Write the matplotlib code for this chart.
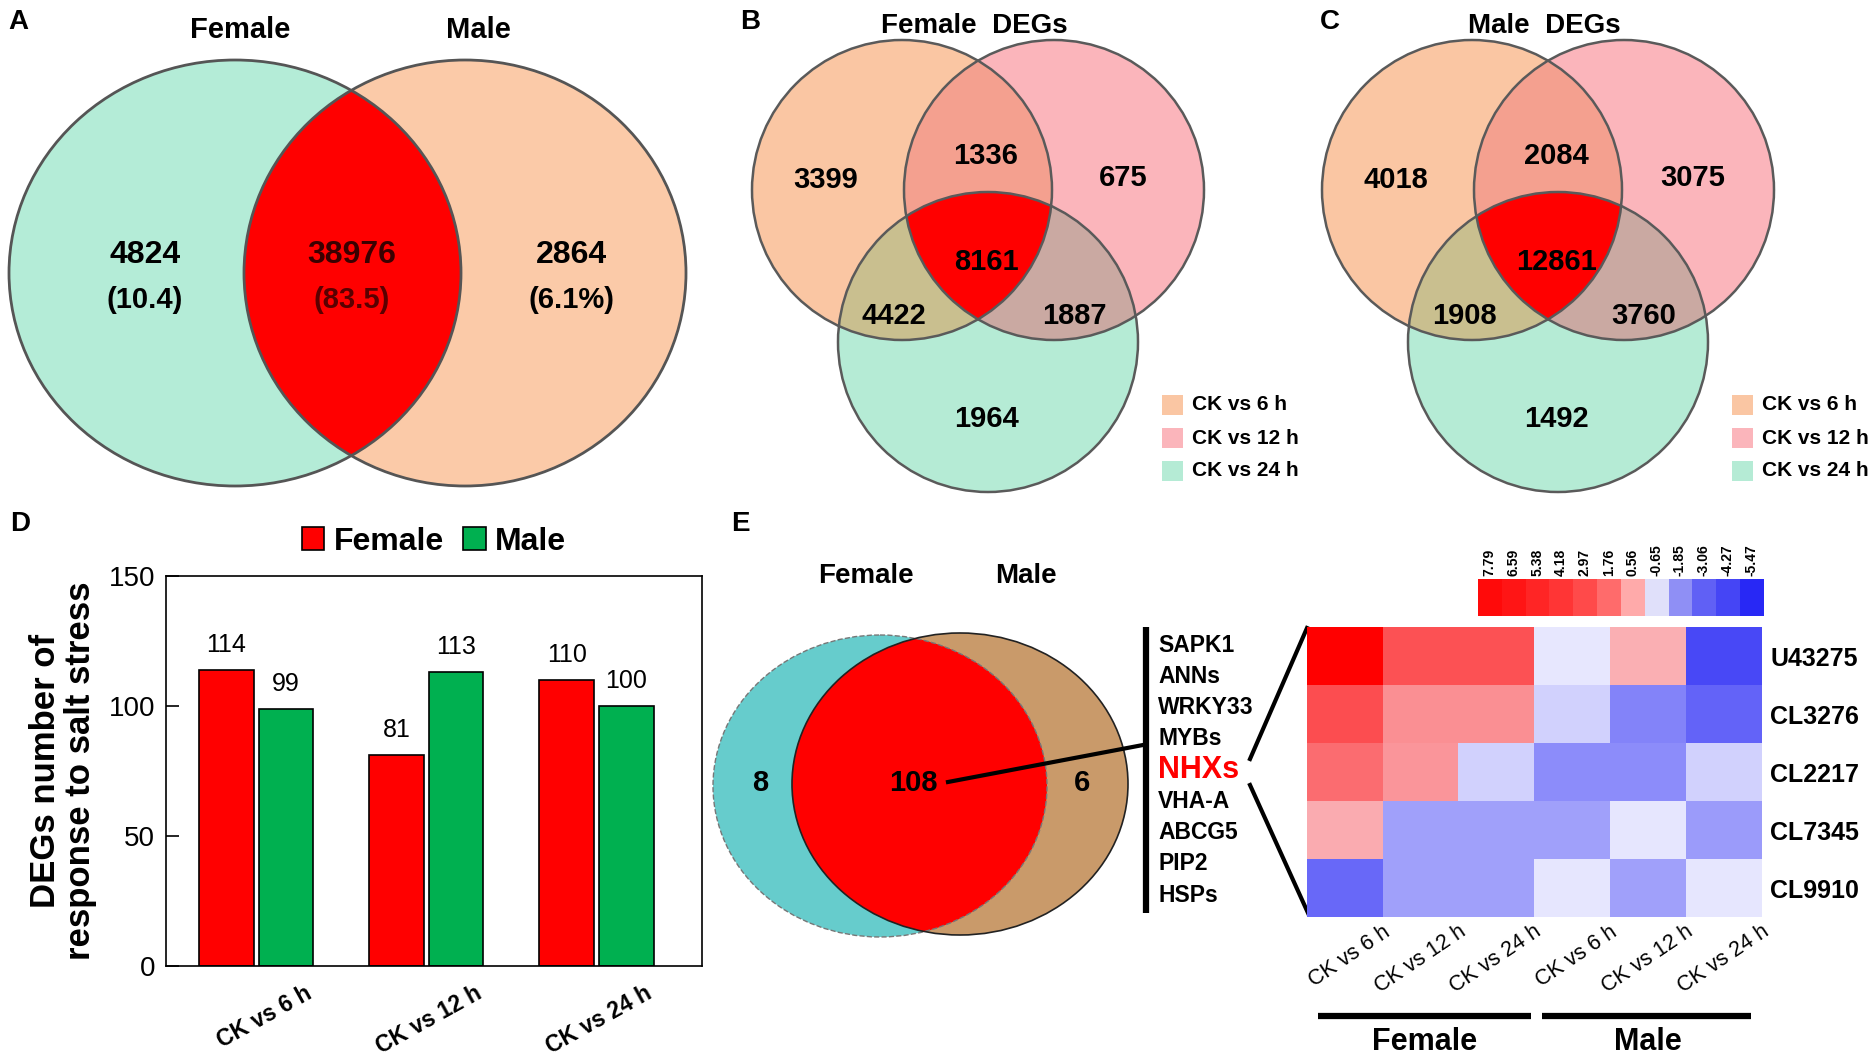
import numpy as np
import matplotlib
matplotlib.use('Agg')
import matplotlib.pyplot as plt
from matplotlib.patches import Ellipse, Polygon, Rectangle
from matplotlib.colors import LinearSegmentedColormap, ListedColormap, TwoSlopeNorm
from matplotlib.transforms import ScaledTranslation, blended_transform_factory

plt.rcParams['font.family'] = ['Liberation Sans', 'DejaVu Sans']

# ---- data ----
venn_a_sets = ['Female', 'Male']
venn_a_counts = [4824, 38976, 2864]
venn_a_pct = ['(10.4)', '(83.5)', '(6.1%)']

# order: only 6h, 6h&12h, only 12h, all, 6h&24h, 12h&24h, only 24h
female_degs = [3399, 1336, 675, 8161, 4422, 1887, 1964]
male_degs = [4018, 2084, 3075, 12861, 1908, 3760, 1492]
deg_sets = ['CK vs 6 h', 'CK vs 12 h', 'CK vs 24 h']

comparisons = ['CK vs 6 h', 'CK vs 12 h', 'CK vs 24 h']
bar_female = [114, 81, 110]
bar_male = [99, 113, 100]

venn_e_counts = [8, 108, 6]
genes = ['SAPK1', 'ANNs', 'WRKY33', 'MYBs', 'NHXs', 'VHA-A', 'ABCG5', 'PIP2', 'HSPs']

heat_rows = ['U43275', 'CL3276', 'CL2217', 'CL7345', 'CL9910']
heat_cols = ['CK vs 6 h', 'CK vs 12 h', 'CK vs 24 h', 'CK vs 6 h', 'CK vs 12 h', 'CK vs 24 h']
heat_vals = [
    [7.79, 5.2, 5.2, -0.42, 2.26, -4.41],
    [5.34, 3.24, 3.24, -0.96, -2.92, -3.75],
    [4.37, 3.05, -0.96, -2.72, -2.72, -0.96],
    [2.4, -2.21, -2.21, -2.21, -0.47, -2.33],
    [-3.6, -2.21, -2.21, -0.47, -2.21, -0.47],
]
cbar_ticks = [7.79, 6.59, 5.38, 4.18, 2.97, 1.76, 0.56, -0.65, -1.85, -3.06, -4.27, -5.47]
cbar_colors = ['#ff0a0a', '#ff1515', '#ff2525', '#ff3535', '#ff4a4a', '#ff6b6b',
               '#ffaaaa', '#e0e0fa', '#8f8ff5', '#6060f5', '#4545f5', '#2828f5']

W, H = 1870, 1056
fig = plt.figure(figsize=(W / 100, H / 100), dpi=100)

# overlay in pixel coordinates
ov = fig.add_axes([0, 0, 1, 1])
ov.set_xlim(0, W)
ov.set_ylim(H, 0)
ov.axis('off')


def ell_pts(e, n=900):
    cx, cy, rx, ry = e
    t = np.linspace(0, 2 * np.pi, n, endpoint=False)
    return np.c_[cx + rx * np.cos(t), cy + ry * np.sin(t)]


def inside(p, e):
    cx, cy, rx, ry = e
    return ((p[:, 0] - cx) / rx) ** 2 + ((p[:, 1] - cy) / ry) ** 2 <= 1.0 + 1e-9


def inter_poly(ells):
    pts = []
    for i, e in enumerate(ells):
        p = ell_pts(e)
        m = np.ones(len(p), bool)
        for j, o in enumerate(ells):
            if j != i:
                m &= inside(p, o)
        pts.append(p[m])
    pts = np.vstack(pts)
    c = pts.mean(0)
    ang = np.arctan2(pts[:, 1] - c[1], pts[:, 0] - c[0])
    return pts[np.argsort(ang)]


def fill_ell(e, color, **kw):
    ov.add_patch(Ellipse((e[0], e[1]), 2 * e[2], 2 * e[3], fc=color, ec='none', **kw))


def edge_ell(e, color, lw, ls='-'):
    ov.add_patch(Ellipse((e[0], e[1]), 2 * e[2], 2 * e[3], fc='none', ec=color, lw=lw, ls=ls))


# ---- panel A ----
ea = [(235, 273, 226, 213), (465, 273, 221, 213)]
fill_ell(ea[0], '#b4ecd7')
fill_ell(ea[1], '#fbcaa8')
ov.add_patch(Polygon(inter_poly(ea), closed=True, fc='#ff0000', ec='none'))
for e in ea:
    edge_ell(e, '#555555', 2)
ov.text(240, 30, venn_a_sets[0], fontsize=21, fontweight='bold', ha='center', va='center')
ov.text(478, 30, venn_a_sets[1], fontsize=21, fontweight='bold', ha='center', va='center')
a_x = [145, 352, 571]
a_col = ['black', '#3a0000', 'black']
a_pcol = ['black', '#5a0000', 'black']
for x, n, p, c1, c2 in zip(a_x, venn_a_counts, venn_a_pct, a_col, a_pcol):
    ov.text(x, 255, str(n), fontsize=23, fontweight='bold', color=c1, ha='center', va='center')
    ov.text(x, 300, p, fontsize=21, fontweight='bold', color=c2, ha='center', va='center')


# ---- panels B and C ----
def venn3(dx, title, counts):
    r = 150
    es = [(902 + dx, 190, r, r), (1054 + dx, 190, r, r), (988 + dx, 342, r, r)]
    base = ['#fac6a3', '#fbb5bb', '#b5ebd5']
    for e, c in zip(es, base):
        fill_ell(e, c)
    pair_cols = {(0, 1): '#f4a08f', (0, 2): '#c9bf8f', (1, 2): '#caa9a2'}
    for (i, j), c in pair_cols.items():
        ov.add_patch(Polygon(inter_poly([es[i], es[j]]), closed=True, fc=c, ec='none'))
    ov.add_patch(Polygon(inter_poly(es), closed=True, fc='#ff0000', ec='none'))
    for e in es:
        edge_ell(e, '#5a5a5a', 1.8)
    ov.text(974 + dx, 26, title, fontsize=20, fontweight='bold', ha='center', va='center')
    pos = [(826, 180), (986, 156), (1123, 178), (986, 262), (894, 316), (1074, 316), (986, 419)]
    for (x, y), n in zip(pos, counts):
        ov.text(x + dx, y, str(n), fontsize=21, fontweight='bold', ha='center', va='center')
    for k, (lab, c) in enumerate(zip(deg_sets, base)):
        y = 405 + 33 * k
        ov.add_patch(Rectangle((1162 + dx, y - 10), 21, 20, fc=c, ec='none'))
        ov.text(1192 + dx, y, lab, fontsize=15, fontweight='bold', ha='left', va='center')


venn3(0, 'Female  DEGs', female_degs)
venn3(570, 'Male  DEGs', male_degs)

# panel letters
for lab, x, y in [('A', 18, 22), ('B', 750, 22), ('C', 1330, 22), ('D', 20, 524), ('E', 740, 524)]:
    ov.text(x, y, lab, fontsize=20, fontweight='bold', ha='center', va='center')

# ---- panel D: bar chart ----
axd = fig.add_axes([166 / W, 1 - 966 / H, (702 - 166) / W, (966 - 576) / H])
xg = np.arange(len(comparisons))
bw = 0.32
axd.bar(xg - 0.175, bar_female, bw, color='#ff0000', edgecolor='black', lw=1.2, label='Female')
axd.bar(xg + 0.175, bar_male, bw, color='#00b050', edgecolor='black', lw=1.2, label='Male')
for x, v in zip(xg - 0.175, bar_female):
    axd.text(x, v + 5, str(v), ha='center', va='bottom', fontsize=18)
for x, v in zip(xg + 0.175, bar_male):
    axd.text(x, v + 5, str(v), ha='center', va='bottom', fontsize=18)
axd.set_xlim(-0.53, 2.62)
axd.set_ylim(0, 150)
axd.set_yticks([0, 50, 100, 150])
axd.tick_params(axis='y', direction='in', length=9, width=1.2, labelsize=20, pad=8)
axd.tick_params(axis='x', length=0, pad=11)
axd.set_xticks(xg)
axd.set_xticklabels(comparisons, rotation=29, ha='right', rotation_mode='anchor',
                    fontsize=16.5, fontweight='bold')
off = ScaledTranslation(0.48, 0, fig.dpi_scale_trans)
for t in axd.get_xticklabels():
    t.set_transform(t.get_transform() + off)
for s in axd.spines.values():
    s.set_linewidth(1.2)
axd.set_ylabel('DEGs number of\nresponse to salt stress', fontsize=25, fontweight='bold',
               labelpad=8, linespacing=1.1)
axd.legend(loc='lower center', bbox_to_anchor=(0.5, 1.0), ncol=2, frameon=False,
           prop={'weight': 'bold', 'size': 23}, handlelength=0.7, handleheight=0.7,
           handletextpad=0.3, columnspacing=0.6, borderaxespad=0.2)

# ---- panel E: venn ----
ee = [(880, 786, 167, 151), (960, 784, 168, 151)]
fill_ell(ee[0], '#66cccc')
fill_ell(ee[1], '#c99a6a')
ov.add_patch(Polygon(inter_poly(ee), closed=True, fc='#ff0000', ec='none'))
edge_ell(ee[0], '#777777', 1.0, '--')
edge_ell(ee[1], '#222222', 1.2)
ov.text(866, 576, 'Female', fontsize=20, fontweight='bold', ha='center', va='center')
ov.text(1026, 576, 'Male', fontsize=20, fontweight='bold', ha='center', va='center')
for x, n in zip([760, 913, 1082], venn_e_counts):
    ov.text(x, 783, str(n), fontsize=21, fontweight='bold', ha='center', va='center')
ov.plot([948, 1143], [782, 745], color='black', lw=3)
ov.plot([1146, 1146], [627, 913], color='black', lw=4.5, solid_capstyle='butt')
gy = np.linspace(645, 895, len(genes))
for g, y in zip(genes, gy):
    if g == 'NHXs':
        ov.text(1158, y, g, fontsize=22, fontweight='bold', color='#ff0000', ha='left', va='center')
    else:
        ov.text(1158, y, g, fontsize=16.5, fontweight='bold', ha='left', va='center')
ov.plot([1250, 1307], [759, 628], color='black', lw=3)
ov.plot([1250, 1308], [785, 913], color='black', lw=3)

# ---- heatmap ----
cmap = LinearSegmentedColormap.from_list('bwr2', [(0, '#2020f5'), (0.5, '#f8f8ff'), (1, '#ff0000')])
norm = TwoSlopeNorm(vmin=-5.47, vcenter=0, vmax=7.79)
axh = fig.add_axes([1307 / W, 1 - 917 / H, 455 / W, 290 / H])
axh.imshow(np.array(heat_vals), cmap=cmap, norm=norm, aspect='auto', interpolation='nearest')
for s in axh.spines.values():
    s.set_visible(False)
axh.yaxis.tick_right()
axh.set_yticks(range(len(heat_rows)))
axh.set_yticklabels(heat_rows, fontsize=18, fontweight='bold')
axh.tick_params(axis='y', length=0, pad=6)
axh.set_xticks(range(len(heat_cols)))
axh.set_xticklabels(heat_cols, rotation=34, ha='right', rotation_mode='anchor', fontsize=15.5)
axh.tick_params(axis='x', length=0, pad=3)
offh = ScaledTranslation(0.37, 0, fig.dpi_scale_trans)
for t in axh.get_xticklabels():
    t.set_transform(t.get_transform() + offh)
tr = blended_transform_factory(axh.transData, axh.transAxes)
axh.plot([-0.35, 2.45], [-0.341, -0.341], color='black', lw=4.5, transform=tr, clip_on=False,
         solid_capstyle='butt')
axh.plot([2.6, 5.35], [-0.341, -0.341], color='black', lw=4.5, transform=tr, clip_on=False,
         solid_capstyle='butt')
axh.text(1.05, -0.43, 'Female', transform=tr, fontsize=22, fontweight='bold', ha='center', va='center')
axh.text(4.0, -0.43, 'Male', transform=tr, fontsize=22, fontweight='bold', ha='center', va='center')

# ---- colour key ----
axc = fig.add_axes([1478 / W, 1 - 616 / H, 285 / W, 37 / H])
axc.imshow(np.arange(len(cbar_colors))[None, :], cmap=ListedColormap(cbar_colors),
           aspect='auto', interpolation='nearest')
axc.set_xticks(range(len(cbar_ticks)))
axc.set_xticklabels([f'{v:.2f}' for v in cbar_ticks], rotation=90, fontsize=10, fontweight='bold')
axc.xaxis.tick_top()
axc.tick_params(axis='x', length=0, pad=2)
axc.set_yticks([])
for s in axc.spines.values():
    s.set_visible(False)

fig.savefig('out.png', dpi=100, facecolor='white')
